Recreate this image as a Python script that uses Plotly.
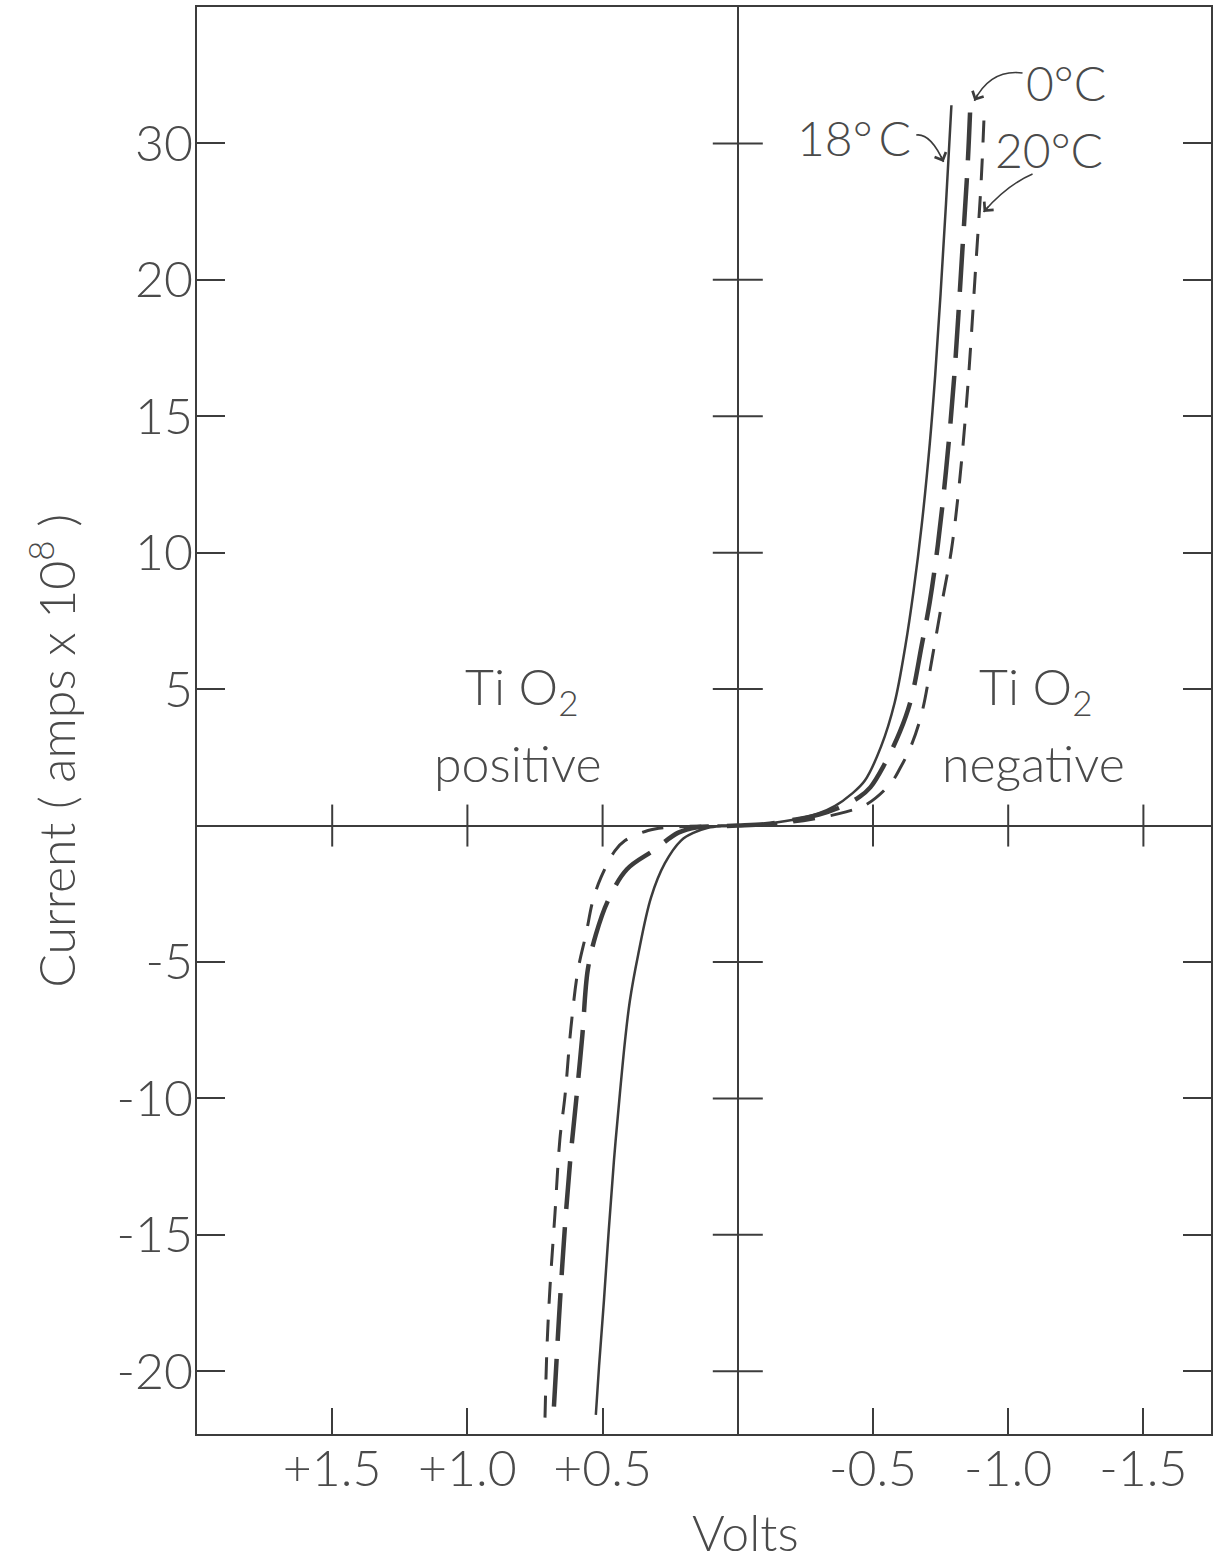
import plotly.graph_objects as go

# ---- Current-voltage characteristics of a TiO2 rectifier at three temperatures ----
# Volts (positive = TiO2 positive, drawn to the left); current in amps x 1e8

# 18 deg C (solid)
v18_neg = [0.00, -0.10, -0.20, -0.30, -0.36, -0.42, -0.47, -0.53, -0.58, -0.62, -0.65,
           -0.68, -0.71, -0.73, -0.75, -0.77, -0.79]
i18_neg = [0.00, 0.06, 0.20, 0.45, 0.72, 1.15, 1.65, 2.90, 4.50, 6.60, 8.60,
           11.0, 14.0, 16.5, 19.5, 22.8, 26.4]
v18_pos = [0.00, 0.06, 0.11, 0.16, 0.21, 0.27, 0.321, 0.369, 0.399, 0.417, 0.436,
           0.458, 0.477, 0.495, 0.513, 0.525]
i18_pos = [0.00, -0.02, -0.08, -0.25, -0.55, -1.39, -2.64, -4.76, -6.41, -7.88, -9.82,
           -12.27, -14.8, -17.4, -19.8, -21.6]

# 0 deg C (long dashes)
v0_neg = [0.00, -0.10, -0.20, -0.30, -0.39, -0.45, -0.49, -0.54, -0.60, -0.64, -0.68,
          -0.71, -0.74, -0.77, -0.80, -0.83, -0.85, -0.86]
i0_neg = [0.00, 0.05, 0.20, 0.40, 0.72, 1.05, 1.40, 2.2, 3.45, 4.6, 6.6,
          8.2, 10.3, 13.0, 16.4, 21.0, 24.2, 26.4]
v0_pos = [0.00, 0.09, 0.15, 0.22, 0.31, 0.41, 0.48, 0.525, 0.555, 0.575, 0.598,
          0.62, 0.64, 0.658, 0.672, 0.68]
i0_pos = [0.00, -0.03, -0.06, -0.26, -0.9, -1.6, -2.75, -4.0, -5.3, -7.7, -10.1,
          -12.3, -14.8, -17.5, -19.9, -21.3]

# 20 deg C (short dashes)
v20_neg = [0.00, -0.10, -0.20, -0.30, -0.40, -0.48, -0.565, -0.60, -0.64, -0.68, -0.72,
           -0.75, -0.79, -0.82, -0.85, -0.88, -0.90, -0.912]
i20_neg = [0.00, 0.04, 0.12, 0.28, 0.50, 0.80, 1.54, 2.1, 2.9, 4.1, 6.2,
           7.9, 10.1, 12.6, 16.0, 20.5, 23.6, 26.3]
v20_pos = [0.00, 0.074, 0.177, 0.266, 0.332, 0.417, 0.454, 0.506, 0.536, 0.561, 0.591,
           0.617, 0.639, 0.658, 0.676, 0.695, 0.706, 0.713]
i20_pos = [0.00, -0.01, -0.03, -0.07, -0.18, -0.55, -0.92, -1.9, -2.75, -3.96, -5.3,
           -7.4, -9.9, -11.5, -14.2, -17.0, -19.2, -21.7]

# Axis ticks
x_tickvals = [1.5, 1.0, 0.5, -0.5, -1.0, -1.5]
x_ticktext = ["+1.5", "+1.0", "+0.5", "-0.5", "-1.0", "-1.5"]
y_tickvals = [-20, -15, -10, -5, 5, 10, 15, 20, 25]
y_ticktext = ["-20", "-15", "-10", "-5", "5", "10", "15", "20", "30"]

INK = "#3c3c3c"
TXT = "#4a4a4a"
FONT = "Lato"

fig = go.Figure()


def branch(v_pos, i_pos, v_neg, i_neg):
    xs = list(reversed(v_pos)) + v_neg[1:]
    ys = list(reversed(i_pos)) + i_neg[1:]
    return xs, ys


x18, y18 = branch(v18_pos, i18_pos, v18_neg, i18_neg)
x0, y0 = branch(v0_pos, i0_pos, v0_neg, i0_neg)
x20, y20 = branch(v20_pos, i20_pos, v20_neg, i20_neg)

fig.add_trace(go.Scatter(x=x18, y=y18, mode="lines", line_shape="spline",
                         line=dict(color=INK, width=2.5), name="18°C"))
fig.add_trace(go.Scatter(x=x0, y=y0, mode="lines", line_shape="spline",
                         line=dict(color=INK, width=4.5, dash="48px,18px"), name="0°C"))
fig.add_trace(go.Scatter(x=x20, y=y20, mode="lines", line_shape="spline",
                         line=dict(color=INK, width=3, dash="22px,16px"), name="20°C"))

# crossing ticks on the central axes
shapes = []
for yv in y_tickvals:
    shapes.append(dict(type="line", xref="x", yref="y", xsizemode="pixel", xanchor=0,
                       x0=-25, x1=25, y0=yv, y1=yv, line=dict(color=INK, width=2)))
for xv in x_tickvals:
    shapes.append(dict(type="line", xref="x", yref="y", ysizemode="pixel", yanchor=0,
                       y0=-21, y1=21, x0=xv, x1=xv, line=dict(color=INK, width=2)))

# curved leader lines for the temperature labels
leaders = [
    ((-0.660, 25.31), (-0.713, 25.38), (-0.761, 24.32)),   # 18 deg C
    ((-1.053, 27.58), (-0.935, 27.73), (-0.875, 26.56)),   # 0 deg C
    ((-1.090, 23.88), (-0.996, 23.48), (-0.909, 22.49)),   # 20 deg C
]
for p0, c, p2 in leaders:
    shapes.append(dict(type="path", xref="x", yref="y",
                       path=f"M {p0[0]},{p0[1]} Q {c[0]},{c[1]} {p2[0]},{p2[1]}",
                       line=dict(color=INK, width=1.6)))

annotations = []
for p0, c, p2 in leaders:
    bx = p2[0] + (c[0] - p2[0]) * 0.25
    by = p2[1] + (c[1] - p2[1]) * 0.25
    annotations.append(dict(x=p2[0], y=p2[1], ax=bx, ay=by, xref="x", yref="y",
                            axref="x", ayref="y", text="", showarrow=True,
                            arrowhead=4, arrowsize=1.6, arrowwidth=1.5,
                            arrowcolor=INK, standoff=0))

label_font = dict(family=FONT, size=50, color=TXT, weight=300)
temp_font = dict(family=FONT, size=48, color=TXT, weight=300)


def label(x, y, text, xref="x", yref="y", font=label_font, **kw):
    return dict(x=x, y=y, text=text, showarrow=False, font=font,
                xref=xref, yref=yref, xanchor="center", yanchor="middle", **kw)


annotations += [
    label(-0.428, 25.2, "18°\u2009C", font=temp_font),
    label(-1.215, 27.25, "0°C", font=temp_font),
    label(-1.152, 24.76, "20°C", font=temp_font),
    label(0.80, 5.0, "Ti O<sub>2</sub>"),
    label(0.813, 2.3, "positive"),
    label(-1.10, 5.0, "Ti O<sub>2</sub>"),
    label(-1.095, 2.3, "negative"),
    label(-0.03, -0.0687, "Volts", yref="paper"),
    label(-0.1427, 2.75, "Current ( amps x 10<sup>8</sup> )", xref="paper",
          textangle=-90),
]

fig.update_layout(
    width=1217, height=1563,
    margin=dict(l=197, r=4, t=7, b=129),
    paper_bgcolor="white", plot_bgcolor="white",
    showlegend=False,
    shapes=shapes,
    annotations=annotations,
    xaxis=dict(range=[2.0, -1.75], showgrid=False, zeroline=True,
               zerolinecolor=INK, zerolinewidth=2,
               showline=True, mirror=True, linecolor=INK, linewidth=2,
               ticks="inside", ticklen=26, tickwidth=2, tickcolor=INK,
               tickvals=x_tickvals, ticktext=x_ticktext,
               ticklabelstandoff=-10,
               tickfont=dict(family=FONT, size=50, color=TXT, weight=300)),
    yaxis=dict(range=[-22.3, 30.0], showgrid=False, zeroline=True,
               zerolinecolor=INK, zerolinewidth=2,
               showline=True, mirror="ticks", linecolor=INK, linewidth=2,
               ticks="inside", ticklen=28, tickwidth=2, tickcolor=INK,
               tickvals=y_tickvals, ticktext=y_ticktext,
               ticklabelstandoff=-8,
               tickfont=dict(family=FONT, size=50, color=TXT, weight=300)),
)

fig.write_html("out.html")
